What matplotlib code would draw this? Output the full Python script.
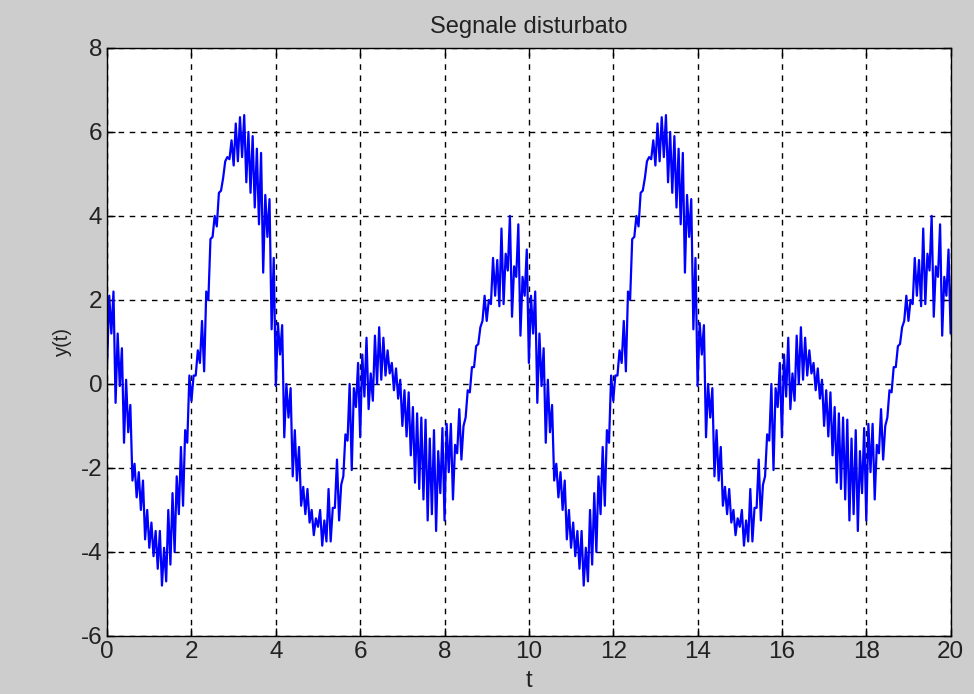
import matplotlib.pyplot as plt
import numpy as np

# for every 0.1 s the low and high end of the
# nearly vertical noise stroke at that time
t = np.round(np.arange(201) * 0.1, 2)
y_low = [
    0.5, 1.2, -0.45, -0.05, -1.4, -1.15, -2.3, -2.7, -3.0, -3.7,
    -3.9, -4.1, -4.4, -4.8, -4.7, -4.3, -4.0, -3.1, -2.9, -1.4,
    -0.4, 0.2, 0.5, 0.3, 2.0, 3.5, 3.75, 4.6, 5.3, 5.35,
    5.2, 5.3, 5.4, 4.8, 4.55, 4.2, 3.8, 2.65, 3.5, 1.3,
    -0.05, 0.7, -1.27, -0.8, -2.2, -2.3, -2.9, -3.1, -3.3, -3.6,
    -3.4, -3.85, -3.75, -3.75, -2.95, -3.25, -2.2, -1.35, -2.05, -0.55,
    -1.27, -0.3, -0.6, -0.4, 0.0, 0.1, 0.2, 0.25, -0.15, -0.35,
    -1.0, -1.25, -1.7, -2.35, -2.5, -2.75, -3.25, -3.1, -3.5, -2.6,
    -3.25, -2.1, -2.75, -1.65, -1.8, -0.8, -0.2, 0.4, 0.95, 1.5,
    1.5, 1.9, 2.1, 1.85, 1.9, 2.7, 1.6, 2.55, 1.15, 2.1,
    0.5, 1.2, -0.45, -0.05, -1.4, -1.15, -2.3, -2.7, -3.0, -3.7,
    -3.9, -4.1, -4.4, -4.8, -4.7, -4.3, -4.0, -3.1, -2.9, -1.4,
    -0.4, 0.2, 0.5, 0.3, 2.0, 3.5, 3.75, 4.6, 5.3, 5.35,
    5.2, 5.3, 5.4, 4.8, 4.55, 4.2, 3.8, 2.65, 3.5, 1.3,
    -0.05, 0.7, -1.27, -0.8, -2.2, -2.3, -2.9, -3.1, -3.3, -3.6,
    -3.4, -3.85, -3.75, -3.75, -2.95, -3.25, -2.2, -1.35, -2.05, -0.55,
    -1.27, -0.3, -0.6, -0.4, 0.0, 0.1, 0.2, 0.25, -0.15, -0.35,
    -1.0, -1.25, -1.7, -2.35, -2.5, -2.75, -3.25, -3.1, -3.5, -2.6,
    -3.25, -2.1, -2.75, -1.65, -1.8, -0.8, -0.2, 0.4, 0.95, 1.5,
    1.5, 1.9, 2.1, 1.85, 1.9, 2.7, 1.6, 2.55, 1.15, 2.1,
    1.2,
]
y_high = [
    2.1, 2.2, 1.2, 0.85, 0.1, -0.5, -1.9, -2.1, -2.3, -3.0,
    -3.3, -3.5, -3.5, -3.9, -3.0, -2.6, -2.2, -1.5, -1.1, 0.2,
    0.2, 0.8, 1.5, 2.2, 3.45, 4.0, 4.55, 4.9, 5.4, 5.8,
    6.2, 6.35, 6.4, 6.0, 5.9, 5.6, 5.5, 4.5, 4.4, 3.0,
    1.45, 1.4, 0.0, -0.1, -1.1, -1.5, -2.45, -2.5, -3.0, -3.2,
    -3.0, -3.25, -2.5, -2.95, -1.8, -2.4, -1.2, 0.0, -0.1, 0.5,
    0.7, 1.1, 0.25, 1.15, 1.35, 1.1, 0.8, 0.5, 0.37, 0.1,
    -0.15, -0.2, -0.55, -0.7, -0.8, -0.85, -1.3, -1.1, -1.6, -1.05,
    -0.95, -0.95, -1.45, -0.6, -1.0, -0.15, 0.4, 0.9, 1.35, 2.1,
    2.0, 3.0, 2.95, 3.7, 3.1, 4.0, 2.8, 3.8, 2.55, 3.2,
    2.1, 2.2, 1.2, 0.85, 0.1, -0.5, -1.9, -2.1, -2.3, -3.0,
    -3.3, -3.5, -3.5, -3.9, -3.0, -2.6, -2.2, -1.5, -1.1, 0.2,
    0.2, 0.8, 1.5, 2.2, 3.45, 4.0, 4.55, 4.9, 5.4, 5.8,
    6.2, 6.35, 6.4, 6.0, 5.9, 5.6, 5.5, 4.5, 4.4, 3.0,
    1.45, 1.4, 0.0, -0.1, -1.1, -1.5, -2.45, -2.5, -3.0, -3.2,
    -3.0, -3.25, -2.5, -2.95, -1.8, -2.4, -1.2, 0.0, -0.1, 0.5,
    0.7, 1.1, 0.25, 1.15, 1.35, 1.1, 0.8, 0.5, 0.37, 0.1,
    -0.15, -0.2, -0.55, -0.7, -0.8, -0.85, -1.3, -1.1, -1.6, -1.05,
    -0.95, -0.95, -1.45, -0.6, -1.0, -0.15, 0.4, 0.9, 1.35, 2.1,
    2.0, 3.0, 2.95, 3.7, 3.1, 4.0, 2.8, 3.8, 2.55, 3.2,
    3.1,
]
xticks = list(range(0, 21, 2))
yticks = list(range(-6, 9, 2))

plt.rcParams['font.family'] = ['Liberation Sans', 'DejaVu Sans']
plt.rcParams['axes.unicode_minus'] = False

# low end at t, high end half a step later -> zigzag of vertical strokes
tt = np.column_stack([t, t + 0.05]).ravel()
yy = np.column_stack([y_low, y_high]).ravel()

fig = plt.figure(figsize=(9.74, 6.94), dpi=100, facecolor='#cdcdcd')
ax = fig.add_axes([0.110, 0.0836, 0.866, 0.8474])
ax.set_facecolor('white')

ax.plot(tt, yy, color='#0000ff', linewidth=1.6)

ax.set_xlim(0, 20)
ax.set_ylim(-6, 8)
ax.set_xticks(xticks)
ax.set_yticks(yticks)
ax.tick_params(direction='in', length=6, width=1, labelsize=17.5,
               top=True, right=True, colors='black', labelcolor='#222222')
ax.grid(True, color='black', linestyle=(0, (4, 4)), linewidth=1)
for s in ax.spines.values():
    s.set_color('black')
    s.set_linewidth(1)

ax.set_title('Segnale disturbato', fontsize=17, color='#222222', pad=11)
ax.set_xlabel('t', fontsize=17, labelpad=5, color='#222222')
ax.set_ylabel('y(t)', fontsize=14.5, labelpad=6, color='#222222')

fig.savefig('out.png', dpi=100, facecolor=fig.get_facecolor())
